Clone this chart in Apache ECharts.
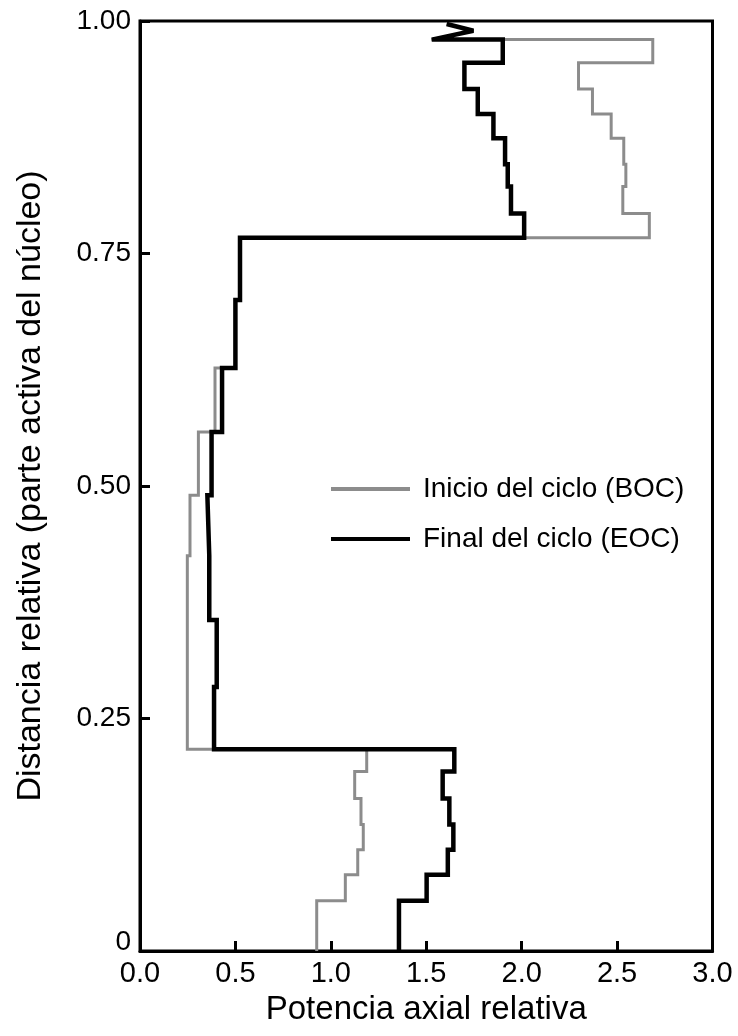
<!DOCTYPE html>
<html>
<head>
<meta charset="utf-8">
<script src="https://cdn.jsdelivr.net/npm/echarts@6/dist/echarts.min.js"></script>
<style>
html,body{margin:0;padding:0;background:#fff;}
#chart{width:738px;height:1036px;}
</style>
</head>
<body>
<div id="chart"></div>
<script>
// Node boundaries (relative height in the active core)
var heights = [0, 0.054, 0.082, 0.109, 0.136, 0.164, 0.193, 0.217, 0.284, 0.356, 0.425, 0.490, 0.558, 0.627, 0.700, 0.767, 0.793, 0.822, 0.846, 0.874, 0.900, 0.927, 0.955, 0.980];
// Relative axial power per node, beginning of cycle
var bocPower = [0.926, 1.076, 1.141, 1.170, 1.158, 1.125, 1.188, 0.248, 0.248, 0.248, 0.262, 0.306, 0.393, 0.500, 0.524, 2.669, 2.530, 2.546, 2.535, 2.469, 2.371, 2.298, 2.687];
// Relative axial power per node, end of cycle
var eocPower = [1.357, 1.502, 1.613, 1.642, 1.621, 1.586, 1.647, 0.388, 0.402, 0.363, 0.353, 0.375, 0.430, 0.500, 0.524, 2.013, 1.944, 1.927, 1.913, 1.852, 1.770, 1.700, 1.901];
// Top end of the profile (zig-zag mark at the top)
var topTailX = [1.529, 1.747, 1.607];
var topTailY = [0.980, 0.9895, 0.9968];

var seriesNames = ['Inicio del ciclo (BOC)', 'Final del ciclo (EOC)'];
var xTicks = ['0.0', '0.5', '1.0', '1.5', '2.0', '2.5', '3.0'];
var yTicks = ['0', '0.25', '0.50', '0.75', '1.00'];

function buildPath(power) {
  var pts = [];
  for (var i = 0; i < power.length; i++) {
    pts.push([power[i], heights[i]]);
    pts.push([power[i], heights[i + 1]]);
  }
  for (var j = 0; j < topTailX.length; j++) {
    pts.push([topTailX[j], topTailY[j]]);
  }
  return pts;
}

var FONT = "'Liberation Sans', Arial, Helvetica, sans-serif";
var GREY = '#8c8c8c';
var chart = echarts.init(document.getElementById('chart'), null, {renderer: 'canvas'});
chart.setOption({
  animation: false,
  backgroundColor: '#fff',
  textStyle: {fontFamily: FONT, color: '#000'},
  grid: {left: 140, right: 25.5, top: 21, bottom: 85, show: true, borderColor: '#000', borderWidth: 3, backgroundColor: 'transparent'},
  legend: {
    orient: 'vertical',
    left: 326,
    top: 470,
    itemWidth: 79,
    itemHeight: 4,
    itemGap: 22,
    data: [
      {name: seriesNames[0], icon: 'rect', itemStyle: {color: GREY}},
      {name: seriesNames[1], icon: 'rect', itemStyle: {color: '#000'}}
    ],
    textStyle: {fontFamily: FONT, fontSize: 28, color: '#000', padding: [0, 0, 0, 8]}
  },
  xAxis: {
    type: 'value', min: 0, max: 3, interval: 0.5,
    name: 'Potencia axial relativa', nameLocation: 'middle', nameGap: 42,
    nameTextStyle: {fontFamily: FONT, fontSize: 33, color: '#000'},
    axisLine: {show: true, onZero: false, lineStyle: {color: '#000', width: 3}},
    axisTick: {show: true, inside: true, length: 10, lineStyle: {color: '#000', width: 3}},
    splitLine: {show: false},
    axisLabel: {margin: 8, fontSize: 29, color: '#000', fontFamily: FONT,
      formatter: function (v) { return xTicks[Math.round(v / 0.5)]; }}
  },
  yAxis: {
    type: 'value', min: 0, max: 1, interval: 0.25,
    name: 'Distancia relativa (parte activa del núcleo)', nameLocation: 'middle', nameGap: 92,
    nameTextStyle: {fontFamily: FONT, fontSize: 34, color: '#000'},
    axisLine: {show: true, onZero: false, lineStyle: {color: '#000', width: 3}},
    axisTick: {show: true, inside: true, length: 10, lineStyle: {color: '#000', width: 3}},
    splitLine: {show: false},
    axisLabel: {margin: 9, fontSize: 28, color: '#000', fontFamily: FONT,
      formatter: function (v) {
        var s = yTicks[Math.round(v / 0.25)];
        return v === 0 ? '{z|' + s + '}' : s;
      },
      rich: {z: {fontSize: 28, fontFamily: FONT, color: '#000', padding: [0, 0, 18, 0]}}
    }
  },
  series: [
    {
      name: seriesNames[0], type: 'line', data: buildPath(bocPower),
      symbol: 'none', showSymbol: false, z: 2,
      lineStyle: {color: GREY, width: 3, join: 'miter', miterLimit: 2},
      itemStyle: {color: GREY}
    },
    {
      name: seriesNames[1], type: 'line', data: buildPath(eocPower),
      symbol: 'none', showSymbol: false, z: 3,
      lineStyle: {color: '#000', width: 4.5, join: 'miter', miterLimit: 2},
      itemStyle: {color: '#000'}
    }
  ]
});
</script>
</body>
</html>
